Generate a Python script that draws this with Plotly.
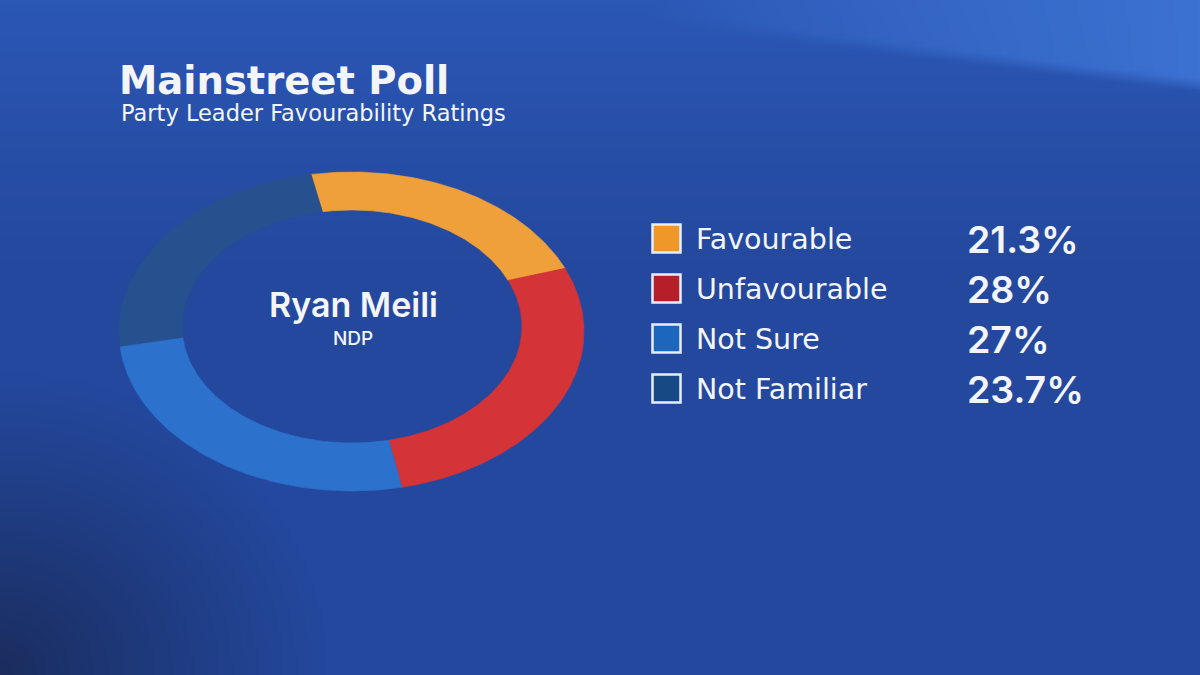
import base64, struct, zlib
import numpy as np
import plotly.graph_objects as go

# ---------------- data ----------------
categories = ["Favourable", "Unfavourable", "Not Sure", "Not Familiar"]
values = [21.3, 28, 27, 23.7]
value_labels = ["21.3%", "28%", "27%", "23.7%"]
ring_colors = ["#EFA03A", "#D43338", "#2C71CC", "#27508F"]
swatch_colors = ["#F0972A", "#B61E2A", "#1C66BE", "#174A85"]
title = "Mainstreet Poll"
subtitle = "Party Leader Favourability Ratings"
leader = "Ryan Meili"
party = "NDP"

W, H = 1200, 675
FONT_W = "DejaVu Sans"
FONT_N = "Inter"
WHITE = "#F3F5F9"

# ---------------- background image (decorative gradient) ----------------
def make_bg(w=300, h=169):
    xs = np.linspace(0, W, w)[None, :].repeat(h, 0)
    ys = np.linspace(0, H, h)[:, None].repeat(w, 1)
    base = np.array([0x24, 0x48, 0x9D], float)
    top = np.array([0x2B, 0x57, 0xB5], float)
    t = np.clip(1 - ys / 280.0, 0, 1)[..., None]
    img = base * (1 - t) + top * t
    # top-right highlight band with soft diagonal edge
    edge = 48 + (xs - 900) * 0.12
    soft = np.clip((edge - ys) / 14.0 + 0.5, 0, 1)
    hl = (np.clip((xs - 650) / 550.0, 0, 1) ** 0.8) * soft
    hl = hl[..., None]
    light = np.array([0x3C, 0x72, 0xD2], float)
    img = img * (1 - hl) + light * hl
    # bottom-left dark vignette
    d = np.sqrt((xs / 1.2) ** 2 + ((ys - H) * 0.9) ** 2)
    v = np.clip(1 - d / 270.0, 0, 1) ** 1.1
    v = v[..., None]
    dark = np.array([0x1A, 0x2D, 0x5E], float)
    img = img * (1 - v) + dark * v
    img = np.clip(img, 0, 255).astype(np.uint8)
    raw = b"".join(b"\x00" + img[r].tobytes() for r in range(h))
    def chunk(tag, data):
        c = struct.pack(">I", len(data)) + tag + data
        return c + struct.pack(">I", zlib.crc32(tag + data) & 0xFFFFFFFF)
    png = b"\x89PNG\r\n\x1a\n" + chunk(b"IHDR", struct.pack(">IIBBBBB", w, h, 8, 2, 0, 0, 0))
    png += chunk(b"IDAT", zlib.compress(raw, 9)) + chunk(b"IEND", b"")
    return "data:image/png;base64," + base64.b64encode(png).decode()

fig = go.Figure()

# ---------------- elliptical donut ----------------
OC = (351.5, 331.5); ORX, ORY = 232.5, 159.5
IC = (352.0, 326.5); IRX, IRY = 170.0, 116.5
start_deg = -10.0
total = sum(values)
acc = start_deg
for cat, val, col in zip(categories, values, ring_colors):
    a0 = acc
    a1 = acc + 360.0 * val / total
    acc = a1
    t = np.radians(np.linspace(a0, a1, 120))
    xo = OC[0] + ORX * np.sin(t); yo = OC[1] - ORY * np.cos(t)
    xi = IC[0] + IRX * np.sin(t[::-1]); yi = IC[1] - IRY * np.cos(t[::-1])
    fig.add_trace(go.Scatter(
        x=np.concatenate([xo, xi, xo[:1]]), y=np.concatenate([yo, yi, yo[:1]]),
        fill="toself", fillcolor=col, mode="lines", line=dict(width=0.6, color=col),
        hoverinfo="text", text=f"{cat}: {val}%", showlegend=False))

# ---------------- legend swatches ----------------
row_y = [238.5 + 50 * i for i in range(len(categories))]
fig.add_trace(go.Scatter(
    x=[666.5] * len(categories), y=row_y, mode="markers",
    marker=dict(symbol="square", size=28, color=swatch_colors,
                line=dict(color="#E6EEF9", width=2.5)),
    hoverinfo="skip", showlegend=False))

ann = []
for i, (cat, lab) in enumerate(zip(categories, value_labels)):
    ann.append(dict(x=694, y=row_y[i] + 1, xref="x", yref="y", text=cat, showarrow=False,
                    xanchor="left", yanchor="middle",
                    font=dict(family=FONT_W, size=28.5, color=WHITE, weight=400)))
    ann.append(dict(x=965, y=row_y[i] + 1, xref="x", yref="y", text=lab, showarrow=False,
                    xanchor="left", yanchor="middle",
                    font=dict(family=FONT_N, size=37.5, color=WHITE, weight=600)))

ann.append(dict(x=117, y=80, xref="x", yref="y", text=title, showarrow=False,
                xanchor="left", yanchor="middle",
                font=dict(family=FONT_W, size=38.5, color=WHITE, weight=700)))
ann.append(dict(x=119, y=113, xref="x", yref="y", text=subtitle, showarrow=False,
                xanchor="left", yanchor="middle",
                font=dict(family=FONT_W, size=22.5, color=WHITE, weight=400)))
ann.append(dict(x=353, y=304, xref="x", yref="y", text=leader, showarrow=False,
                xanchor="center", yanchor="middle",
                font=dict(family=FONT_N, size=34, color=WHITE, weight=600)))
ann.append(dict(x=353, y=338, xref="x", yref="y", text=party, showarrow=False,
                xanchor="center", yanchor="middle",
                font=dict(family=FONT_N, size=19, color=WHITE, weight=500)))

fig.update_layout(
    width=W, height=H, margin=dict(l=0, r=0, t=0, b=0),
    paper_bgcolor="#24489D", plot_bgcolor="rgba(0,0,0,0)",
    xaxis=dict(range=[0, W], visible=False, fixedrange=True),
    yaxis=dict(range=[H, 0], visible=False, fixedrange=True),
    images=[dict(source=make_bg(), xref="paper", yref="paper", x=0, y=1,
                 sizex=1, sizey=1, sizing="stretch", layer="below", xanchor="left", yanchor="top")],
    annotations=ann, showlegend=False,
)

fig.write_html("out.html", config={"displayModeBar": False},
               post_script="document.body.style.margin='0';document.body.style.overflow='hidden';")
